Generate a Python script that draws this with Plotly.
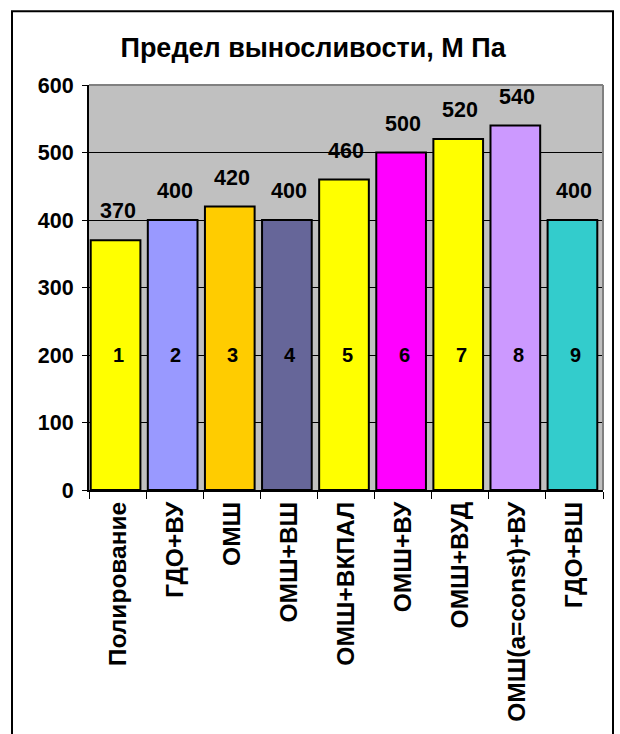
import plotly.graph_objects as go

categories = ["Полирование", "ГДО+ВУ", "ОМШ", "ОМШ+ВШ", "ОМШ+ВКПАЛ",
              "ОМШ+ВУ", "ОМШ+ВУД", "ОМШ(a=const)+ВУ", "ГДО+ВШ"]
values = [370, 400, 420, 400, 460, 500, 520, 540, 400]
numbers = ["1", "2", "3", "4", "5", "6", "7", "8", "9"]
colors = ["#FFFF00", "#9999FF", "#FFCC00", "#666699", "#FFFF00",
          "#FF00FF", "#FFFF00", "#CC99FF", "#33CCCC"]
title_text = "Предел выносливости, М Па"
y_ticks = [0, 100, 200, 300, 400, 500, 600]
number_level = 200

FONT = "Liberation Sans, Arial, sans-serif"

fig = go.Figure()
fig.add_trace(go.Bar(
    x=categories, y=values,
    marker=dict(color=colors, line=dict(color="black", width=2)),
    width=0.87, offset=-0.47,
    hoverinfo="skip",
))

# value labels above bars
for c, v in zip(categories, values):
    fig.add_annotation(x=c, y=v, text=f"<b>{v}</b>", showarrow=False,
                       yanchor="middle", yshift=29,
                       font=dict(family=FONT, size=21.5, color="black"))
# numbers inside bars
for c, n in zip(categories, numbers):
    fig.add_annotation(x=c, y=number_level, text=f"<b>{n}</b>", showarrow=False,
                       yanchor="middle", xshift=1,
                       font=dict(family=FONT, size=20, color="black"))

# plot-area border (grey, top & right)
fig.add_shape(type="line", xref="paper", yref="paper", x0=0, x1=1, y0=1, y1=1,
              line=dict(color="#808080", width=2), layer="above")
fig.add_shape(type="line", xref="paper", yref="paper", x0=1, x1=1, y0=0, y1=1,
              line=dict(color="#808080", width=2), layer="above")

# outer chart border
fig.add_shape(type="rect", xref="paper", yref="paper",
              x0=(12 - 89) / 514, x1=(613 - 89) / 514,
              y0=(492 - 760) / 407, y1=(492 - 11) / 407,
              line=dict(color="black", width=2), layer="below")

fig.update_layout(
    width=620, height=734,
    margin=dict(l=89, r=17, t=85, b=242),
    paper_bgcolor="white",
    plot_bgcolor="#C0C0C0",
    showlegend=False,
    bargap=0.1,
    title=dict(text=f"<b>{title_text}</b>", x=0.505, xanchor="center",
               y=1 - 48 / 734, yanchor="middle",
               font=dict(family=FONT, size=27, color="black")),
    xaxis=dict(
        type="category",
        tickangle=-90,
        tickson="boundaries",
        ticks="outside", ticklen=7, tickcolor="black", tickwidth=1,
        showline=True, linecolor="black", linewidth=2,
        showgrid=False,
        tickfont=dict(family=FONT, size=24.5, color="black"),
        tickprefix="<b>", ticksuffix="</b>",
        range=[-0.5, 8.5],
    ),
    yaxis=dict(
        range=[0, 600],
        tickvals=y_ticks,
        ticktext=[f"<b>{t}</b>" for t in y_ticks],
        ticks="outside", ticklen=5, tickcolor="black", tickwidth=1,
        showline=True, linecolor="black", linewidth=2,
        showgrid=True, gridcolor="black", gridwidth=1,
        zeroline=False,
        tickfont=dict(family=FONT, size=21.5, color="black"),
        ticklabelstandoff=4,
    ),
)

fig.write_html("out.html")
